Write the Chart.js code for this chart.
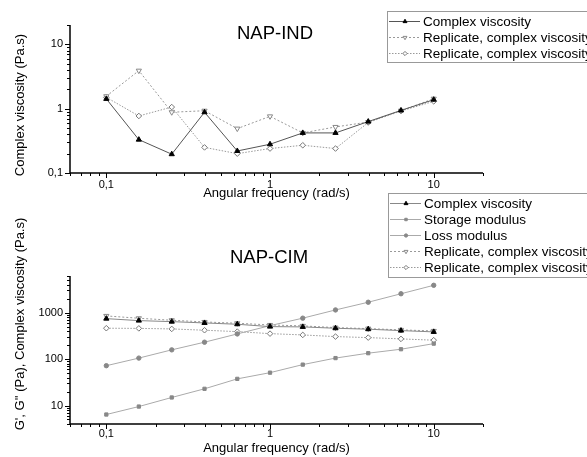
<!DOCTYPE html>
<html><head><meta charset="utf-8">
<script src="https://cdn.jsdelivr.net/npm/chart.js@4/dist/chart.umd.min.js"></script>
<style>
html,body{margin:0;padding:0;background:#fff;width:587px;height:457px;overflow:hidden;position:relative}
#w1{position:absolute;left:0;top:0;width:587px;height:200px}
#w2{position:absolute;left:0;top:185px;width:587px;height:272px}
</style></head><body>
<div id="w1"><canvas id="c1"></canvas></div>
<div id="w2"><canvas id="c2"></canvas></div>
<script>
// ---- data ----
const frequencies = [0.1, 0.158, 0.251, 0.398, 0.631, 1, 1.585, 2.512, 3.981, 6.31, 10];
const indComplex = [1.42, 0.33, 0.196, 0.88, 0.22, 0.28, 0.42, 0.42, 0.63, 0.94, 1.38];
const indRep1    = [1.56, 3.9, 0.88, 0.93, 0.49, 0.76, 0.42, 0.52, 0.62, 0.93, 1.43];
const indRep2    = [1.5, 0.77, 1.06, 0.25, 0.2, 0.24, 0.27, 0.24, 0.61, 0.92, 1.3];
const cimComplex = [743, 673, 640, 600, 562, 500, 493, 461, 440, 410, 385];
const cimStorage = [6.4, 9.5, 14.9, 22.9, 37.5, 51, 76, 105, 134, 163, 215];
const cimLoss    = [72, 105, 158, 231, 348, 525, 760, 1143, 1675, 2550, 3880];
const cimRep1    = [850, 757, 686, 630, 591, 543, 518, 476, 453, 425, 404];
const cimRep2    = [462, 458, 446, 418, 390, 353, 331, 305, 290, 272, 255];
const xTickLabels = ['0,1', '1', '10'];
const indYTickLabels = ['0,1', '1', '10'];
const cimYTickLabels = ['10', '100', '1000'];
const xTitle = 'Angular frequency (rad/s)';
const indYTitle = 'Complex viscosity (Pa.s)';
const cimYTitle = "G', G'' (Pa), Complex viscosity (Pa.s)";

const FONT = '"Liberation Sans", Arial, sans-serif';
const pts = arr => frequencies.map((f, i) => ({x: f, y: arr[i]}));
const num = s => parseFloat(s.replace(',', '.'));

function ds(label, arr, st) {
  return Object.assign({
    label, data: pts(arr), borderWidth: 1, tension: 0, fill: false,
    pointBorderWidth: 1, pointHoverRadius: 3
  }, st);
}
const stComplexTop = {borderColor: '#555', pointStyle: 'triangle', pointRadius: 3, pointBackgroundColor: '#000', pointBorderColor: '#000'};
const stComplexBot = {borderColor: '#888', pointStyle: 'triangle', pointRadius: 3, pointBackgroundColor: '#000', pointBorderColor: '#000'};
const stRep1 = {borderColor: '#999', borderDash: [2, 2], pointStyle: 'triangle', pointRotation: 180, pointRadius: 3, pointBackgroundColor: '#fff', pointBorderColor: '#888'};
const stRep2 = {borderColor: '#999', borderDash: [1.5, 1.5], pointStyle: 'rectRot', pointRadius: 2.8, pointBackgroundColor: '#fff', pointBorderColor: '#777'};
const stStorage = {borderColor: '#aaa', pointStyle: 'rect', pointRadius: 2.3, pointBackgroundColor: '#888', pointBorderColor: '#888'};
const stLoss = {borderColor: '#aaa', pointStyle: 'circle', pointRadius: 2.2, pointBackgroundColor: '#888', pointBorderColor: '#888'};

function decoPlugin(o) {
  return {
    id: 'deco',
    afterDraw(chart) {
      const ctx = chart.ctx, a = chart.chartArea, xs = chart.scales.x, ys = chart.scales.y;
      ctx.save();
      ctx.setLineDash([]);
      ctx.strokeStyle = '#000'; ctx.lineWidth = 1.5;
      ctx.beginPath();
      ctx.moveTo(a.left, a.top); ctx.lineTo(a.left, a.bottom); ctx.lineTo(a.right, a.bottom);
      ctx.stroke();
      ctx.lineWidth = 1;
      const ticks = (sc, cb) => {
        for (let e = Math.floor(Math.log10(sc.min)); e <= Math.ceil(Math.log10(sc.max)); e++) {
          for (let m = 1; m <= 9; m++) {
            const v = m * Math.pow(10, e);
            if (v < sc.min * 0.999 || v > sc.max * 1.001) continue;
            cb(sc.getPixelForValue(v), m === 1);
          }
        }
      };
      ctx.beginPath();
      ticks(xs, (px, major) => { const x = Math.round(px) + 0.5; ctx.moveTo(x, a.bottom); ctx.lineTo(x, a.bottom + (major ? 5 : 3)); });
      ticks(ys, (py, major) => { const y = Math.round(py) + 0.5; ctx.moveTo(a.left, y); ctx.lineTo(a.left - (major ? 5 : 3), y); });
      ctx.stroke();
      ctx.fillStyle = '#000';
      ctx.font = '11px ' + FONT;
      ctx.textAlign = 'center'; ctx.textBaseline = 'middle';
      o.xLabels.forEach(l => ctx.fillText(l, xs.getPixelForValue(num(l)), a.bottom + o.xLabOff));
      ctx.textAlign = 'right';
      o.yLabels.forEach(l => ctx.fillText(l, a.left - 7, ys.getPixelForValue(num(l))));
      // axis titles
      ctx.font = '13px ' + FONT;
      ctx.textAlign = 'center';
      ctx.fillText(o.xTitle, (a.left + a.right) / 2, o.xTitleY);
      ctx.save();
      ctx.translate(20, o.yTitleY); ctx.rotate(-Math.PI / 2);
      ctx.fillText(o.yTitle, 0, 0);
      ctx.restore();
      // panel title
      ctx.font = '18.5px ' + FONT;
      ctx.fillText(o.title, o.titleX, o.titleY);
      // legend
      const L = o.legend;
      ctx.strokeStyle = '#999'; ctx.lineWidth = 1;
      ctx.strokeRect(L.x + 0.5, L.y + 0.5, 300, L.h);
      ctx.font = '13.5px ' + FONT; ctx.textAlign = 'left';
      chart.data.datasets.forEach((d, i) => {
        const y = L.y + L.first + i * 16;
        ctx.save();
        ctx.strokeStyle = d.borderColor; ctx.lineWidth = 1;
        ctx.setLineDash(d.borderDash || []);
        ctx.beginPath(); ctx.moveTo(L.x + 2, y + 0.5); ctx.lineTo(L.x + 33, y + 0.5); ctx.stroke();
        ctx.setLineDash([]);
        ctx.fillStyle = d.pointBackgroundColor; ctx.strokeStyle = d.pointBorderColor;
        Chart.helpers.drawPoint(ctx, {pointStyle: d.pointStyle, rotation: d.pointRotation || 0, radius: d.pointRadius * 0.75, borderWidth: 1}, L.x + 18, y + 0.5);
        ctx.restore();
        ctx.fillStyle = '#000';
        ctx.textBaseline = 'middle';
        ctx.fillText(d.label, L.x + 36, y + 1);
      });
      ctx.restore();
    }
  };
}

function make(id, datasets, xr, yr, pad, o) {
  return new Chart(document.getElementById(id), {
    type: 'line',
    data: {datasets},
    options: {
      responsive: true, maintainAspectRatio: false, animation: false,
      layout: {padding: pad},
      plugins: {legend: {display: false}, tooltip: {enabled: false}},
      scales: {
        x: {type: 'logarithmic', min: xr[0], max: xr[1], display: false},
        y: {type: 'logarithmic', min: yr[0], max: yr[1], display: false}
      }
    },
    plugins: [decoPlugin(o)]
  });
}

make('c1', [
  ds('Complex viscosity', indComplex, stComplexTop),
  ds('Replicate, complex viscosity', indRep1, stRep1),
  ds('Replicate, complex viscosity', indRep2, stRep2)
], [0.06, 20], [0.1, 20], {left: 70, right: 104, top: 25, bottom: 27}, {
  xLabels: xTickLabels, yLabels: indYTickLabels, xLabOff: 12,
  xTitle: xTitle, xTitleY: 193, yTitle: indYTitle, yTitleY: 105,
  title: 'NAP-IND', titleX: 275, titleY: 34,
  legend: {x: 387, y: 11, h: 51, first: 10}
});

make('c2', [
  ds('Complex viscosity', cimComplex, stComplexBot),
  ds('Storage modulus', cimStorage, stStorage),
  ds('Loss modulus', cimLoss, stLoss),
  ds('Replicate, complex viscosity', cimRep1, stRep1),
  ds('Replicate, complex viscosity', cimRep2, stRep2)
], [0.06, 20], [4, 6150], {left: 70, right: 104, top: 91, bottom: 33}, {
  xLabels: xTickLabels, yLabels: cimYTickLabels, xLabOff: 10,
  xTitle: xTitle, xTitleY: 263, yTitle: cimYTitle, yTitleY: 139,
  title: 'NAP-CIM', titleX: 269, titleY: 73,
  legend: {x: 388, y: 8, h: 84, first: 10}
});
</script>
</body></html>
